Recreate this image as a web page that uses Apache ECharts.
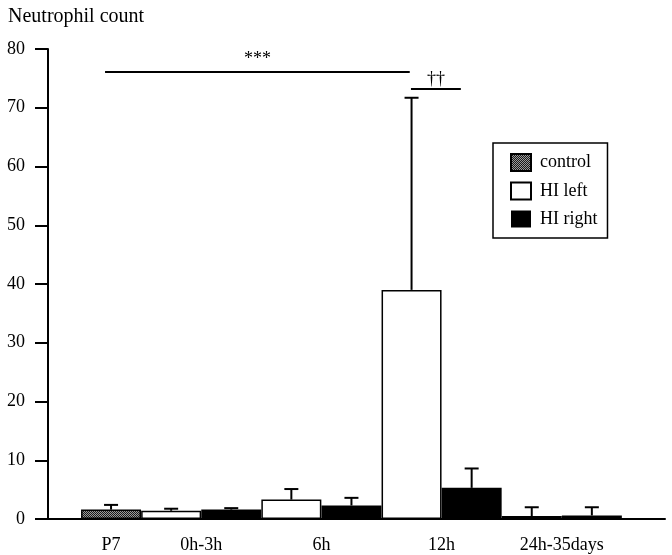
<!DOCTYPE html>
<html>
<head>
<meta charset="utf-8">
<script src="https://cdn.jsdelivr.net/npm/echarts@6/dist/echarts.min.js"></script>
<style>
html,body{margin:0;padding:0;background:#fff;}
#chart{width:672px;height:555px;}
</style>
</head>
<body>
<div id="chart"></div>
<script>
// ---- data ----
const categories = ['P7', '0h-3h', '6h', '12h', '24h-35days'];
const controlMean = [1.6, null, null, null, 0.5];
const controlSD   = [0.8, null, null, null, 1.5];
const hiLeftMean  = [null, 1.4, 3.3, 39.0, null];
const hiLeftSD    = [null, 0.35, 1.8, 32.7, null];
const hiRightMean = [null, 1.6, 2.3, 5.3, 0.6];
const hiRightSD   = [null, 0.25, 1.3, 3.3, 1.4];
const yTicks = [0, 10, 20, 30, 40, 50, 60, 70, 80];

// ---- layout: bars laid one after another ----
const seriesDefs = [
  {name: 'control', mean: controlMean, sd: controlSD},
  {name: 'HI left', mean: hiLeftMean, sd: hiLeftSD},
  {name: 'HI right', mean: hiRightMean, sd: hiRightSD}
];
let slot = 0;
const groupCenters = [];
seriesDefs.forEach(s => { s.bars = []; s.errs = []; });
categories.forEach((c, gi) => {
  const start = slot;
  seriesDefs.forEach(s => {
    if (s.mean[gi] != null) {
      const x = slot + 0.5;
      s.bars.push([x, s.mean[gi]]);
      s.errs.push([x, s.mean[gi], s.mean[gi] + s.sd[gi]]);
      slot++;
    }
  });
  groupCenters.push((start + slot) / 2);
});

// pattern for control
const pc = document.createElement('canvas');
pc.width = 2; pc.height = 2;
const pctx = pc.getContext('2d');
pctx.fillStyle = '#9a9a9a'; pctx.fillRect(0, 0, 2, 2);
pctx.fillStyle = '#1a1a1a'; pctx.fillRect(0, 0, 1, 1); pctx.fillRect(1, 1, 1, 1);

const fills = [
  {image: pc, repeat: 'repeat'},
  '#ffffff',
  '#000000'
];

const font = 'Liberation Serif';
const chart = echarts.init(document.getElementById('chart'));

function errRender(params, api) {
  const x = api.value(0);
  const p0 = api.coord([x, api.value(1)]);
  const p1 = api.coord([x, api.value(2)]);
  const cap = 7;
  return {
    type: 'group',
    children: [
      {type: 'line', shape: {x1: p0[0], y1: p0[1], x2: p1[0], y2: p1[1]}, style: {stroke: '#000', lineWidth: 2}},
      {type: 'line', shape: {x1: p1[0] - cap, y1: p1[1], x2: p1[0] + cap, y2: p1[1]}, style: {stroke: '#000', lineWidth: 2}}
    ]
  };
}

const series = [];
seriesDefs.forEach((s, i) => {
  series.push({
    name: s.name,
    type: 'bar',
    data: s.bars,
    barWidth: 60,
    barGap: '-100%',
    itemStyle: {color: fills[i], borderColor: '#000', borderWidth: i === 2 ? 0 : 1.5},
    z: 2
  });
});
seriesDefs.forEach((s, i) => {
  series.push({
    type: 'custom',
    renderItem: errRender,
    data: s.errs,
    encode: {x: 0, y: [1, 2]},
    z: 3,
    silent: true
  });
});
// significance brackets
series.push({
  type: 'line',
  data: [],
  silent: true,
  markLine: {
    silent: true,
    symbol: ['none', 'none'],
    lineStyle: {color: '#000', width: 2, type: 'solid'},
    label: {show: true, position: 'insideMiddleTop', color: '#000', fontFamily: font, fontSize: 18, distance: 4},
    data: [
      [{coord: [0.4, 76.1], label: {formatter: '***'}}, {coord: [5.47, 76.1]}],
      [{coord: [5.49, 73.2], label: {formatter: '††', distance: 1}}, {coord: [6.32, 73.2]}]
    ]
  }
});

chart.setOption({
  animation: false,
  backgroundColor: '#fff',
  title: {
    text: 'Neutrophil count', left: 3, top: 2,
    textStyle: {fontFamily: font, fontSize: 20, fontWeight: 'normal', color: '#000'}
  },
  grid: {left: 48, right: 7, top: 49, bottom: 36, containLabel: false},
  legend: {
    orient: 'vertical',
    left: 493, top: 143,
    width: 116,
    padding: [10, 10, 10, 17],
    itemWidth: 20, itemHeight: 17, itemGap: 9.5,
    borderColor: '#000', borderWidth: 1.5,
    icon: 'rect',
    data: ['control', 'HI left', 'HI right'],
    textStyle: {fontFamily: font, fontSize: 18, color: '#000', padding: [0, 0, 0, 4]}
  },
  xAxis: {
    type: 'value',
    min: (48 - 81) / 60.1,
    max: (665 - 81) / 60.1,
    axisLine: {show: true, onZero: false, lineStyle: {color: '#000', width: 2}},
    axisTick: {show: false},
    splitLine: {show: false},
    axisLabel: {
      customValues: groupCenters,
      formatter: function (v) {
        for (let i = 0; i < groupCenters.length; i++) {
          if (Math.abs(groupCenters[i] - v) < 1e-6) return categories[i];
        }
        return '';
      },
      margin: 17,
      fontFamily: font, fontSize: 18, color: '#000'
    }
  },
  yAxis: {
    type: 'value',
    min: yTicks[0], max: yTicks[yTicks.length - 1], interval: 10,
    axisLine: {show: true, onZero: false, lineStyle: {color: '#000', width: 2}},
    axisTick: {show: true, length: 13, lineStyle: {color: '#000', width: 2}},
    splitLine: {show: false},
    axisLabel: {margin: 23, fontFamily: font, fontSize: 18, color: '#000'}
  },
  series: series
});
</script>
</body>
</html>
